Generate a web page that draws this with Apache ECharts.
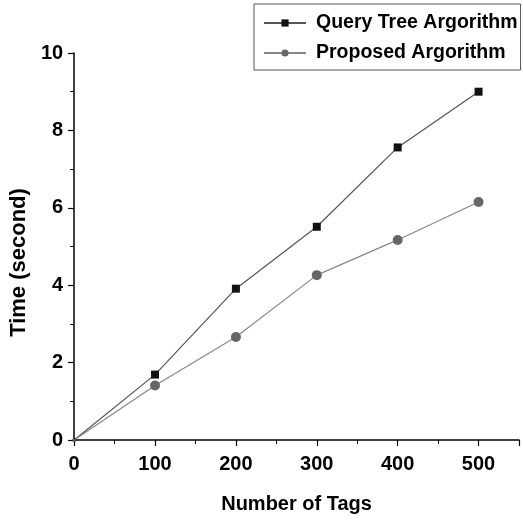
<!DOCTYPE html>
<html>
<head>
<meta charset="utf-8">
<script src="https://cdn.jsdelivr.net/npm/echarts@6/dist/echarts.min.js"></script>
<style>
html,body{margin:0;padding:0;background:#fff;}
#chart{width:523px;height:520px;}
</style>
</head>
<body>
<div id="chart"></div>
<script>
var tags = [0, 100, 200, 300, 400, 500];
var queryTree = [0, 1.69, 3.91, 5.51, 7.56, 9.0];
var proposed = [0, 1.41, 2.66, 4.26, 5.17, 6.15];
var seriesNames = ['Query Tree Argorithm', 'Proposed Argorithm'];
var xTitle = 'Number of Tags';
var yTitle = 'Time (second)';

var font = '"Liberation Sans", Arial, sans-serif';

function pairs(vals) {
  return tags.map(function (t, i) {
    var item = { value: [t, vals[i]] };
    if (i === 0) item.symbolSize = 3;
    return item;
  });
}

var chart = echarts.init(document.getElementById('chart'), null, { renderer: 'canvas' });
chart.setOption({
  animation: false,
  backgroundColor: '#ffffff',
  grid: { left: 73, right: 4, top: 53, bottom: 80, containLabel: false },
  legend: {
    orient: 'vertical',
    left: 254,
    top: 4,
    padding: [9, 3, 7, 9],
    itemGap: 10,
    itemWidth: 42,
    itemHeight: 9,
    borderColor: '#555',
    borderWidth: 1,
    textStyle: { fontFamily: font, fontWeight: 'bold', fontSize: 19.5, color: '#000', padding: [0, 0, 0, 5] },
    data: seriesNames
  },
  xAxis: {
    type: 'value',
    min: 0,
    max: 550,
    interval: 100,
    name: xTitle,
    nameLocation: 'middle',
    nameGap: 54,
    nameTextStyle: { fontFamily: font, fontWeight: 'bold', fontSize: 20, color: '#000' },
    axisLine: { show: true, onZero: false, lineStyle: { color: '#000', width: 1.5 } },
    axisTick: { show: true, inside: false, length: 6, lineStyle: { color: '#000', width: 1.2 } },
    minorTick: { show: true, splitNumber: 2, length: 4, lineStyle: { color: '#000', width: 1 } },
    splitLine: { show: false },
    axisLabel: { showMaxLabel: false, margin: 14, fontFamily: font, fontWeight: 'bold', fontSize: 20, color: '#000' }
  },
  yAxis: {
    type: 'value',
    min: 0,
    max: 10,
    interval: 2,
    name: yTitle,
    nameLocation: 'middle',
    nameGap: 44,
    nameTextStyle: { fontFamily: font, fontWeight: 'bold', fontSize: 22, color: '#000', padding: [0, 32, 0, 0] },
    axisLine: { show: true, onZero: false, lineStyle: { color: '#000', width: 1.5 } },
    axisTick: { show: true, inside: false, length: 6, lineStyle: { color: '#000', width: 1.2 } },
    minorTick: { show: true, splitNumber: 2, length: 4, lineStyle: { color: '#000', width: 1 } },
    splitLine: { show: false },
    axisLabel: { margin: 11, fontFamily: font, fontWeight: 'bold', fontSize: 20, color: '#000' }
  },
  series: [
    {
      name: seriesNames[0],
      type: 'line',
      data: pairs(queryTree),
      symbol: 'rect',
      symbolSize: 8,
      itemStyle: { color: '#111', borderWidth: 0 },
      lineStyle: { color: '#555', width: 1.2 }
    },
    {
      name: seriesNames[1],
      type: 'line',
      data: pairs(proposed),
      symbol: 'circle',
      symbolSize: 10,
      itemStyle: { color: '#666', borderWidth: 0 },
      lineStyle: { color: '#888', width: 1.2 }
    }
  ]
});
</script>
</body>
</html>
